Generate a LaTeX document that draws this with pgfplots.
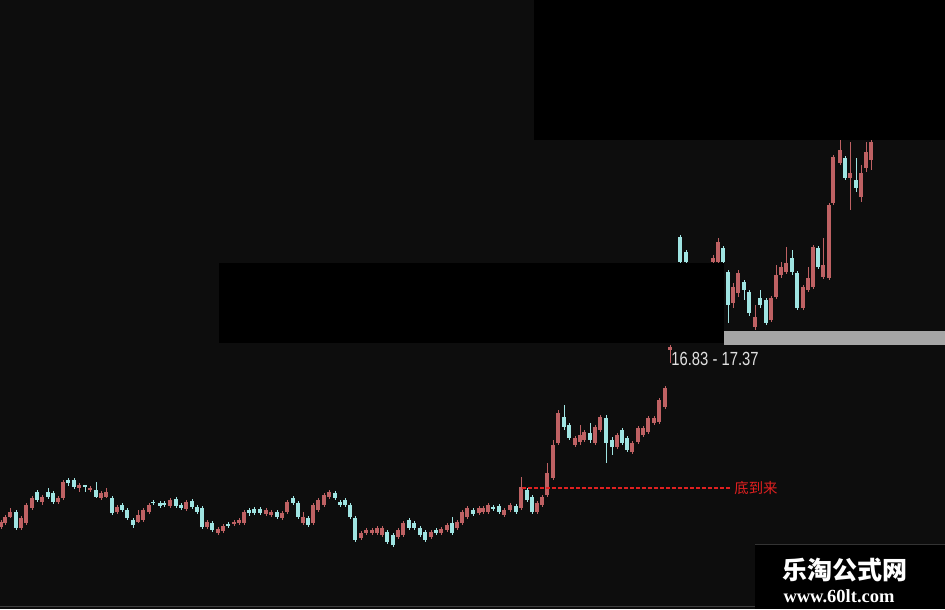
\documentclass[border=0pt]{standalone}
\usepackage{pgfplots}
\usepackage{pgfplotstable}
\pgfplotsset{compat=1.18}
\usepackage{fontspec}
\setmainfont{Liberation Sans}
\newfontfamily\cjk{Noto Sans CJK SC}
\newfontfamily\serifb{Liberation Serif}
\definecolor{bgc}{HTML}{0D0D0D}
\definecolor{upc}{HTML}{BE6163}
\definecolor{dnc}{HTML}{9FE4E2}
\definecolor{sigc}{HTML}{E02020}

% rising candles: x open high low close
\pgfplotstableread{
x o h l c
1 82 89 80 87
5 86 94 84 92
10 92 101 91 97
21 81 93 79 91
26 86 106 84 104
32 101 113 99 111
42 107 114 104 112
58 107 113 105 111
63 111 129 109 127
79 121 126 117 124
90 119 123 117 121
101 111 118 109 116
106 112 121 111 117
117 97 104 95 102
138 87 99 86 94
143 89 101 87 99
149 97 106 95 104
170 103 111 101 109
186 100 109 98 107
207 82 89 80 87
218 76 82 74 80
223 78 85 76 83
234 85 89 83 87
239 86 91 84 89
244 86 99 84 97
266 95 101 93 99
271 94 99 92 97
282 91 98 89 96
287 97 109 95 107
303 86 97 84 92
313 86 106 84 104
318 99 111 97 109
324 104 116 102 114
329 112 119 110 117
361 71 78 69 76
366 76 81 74 79
372 76 81 74 79
377 76 83 74 81
382 74 83 72 81
398 72 81 70 79
403 74 88 72 86
431 72 79 70 77
441 76 82 74 80
447 79 86 77 84
457 81 89 79 87
462 86 99 84 97
467 92 103 90 101
479 96 103 94 101
483 97 103 95 101
488 97 106 95 104
504 94 101 92 99
510 99 106 97 104
521 101 132 99 122
537 97 108 95 106
542 104 114 102 112
547 114 146 112 136
553 131 169 129 164
558 166 199 164 196
575 164 173 162 171
580 167 184 164 174
584 169 179 167 177
595 166 184 164 182
600 179 194 177 192
617 162 176 160 174
632 157 168 155 166
638 167 183 165 181
643 174 183 172 181
648 177 193 175 191
654 186 193 184 191
659 187 211 185 209
665 202 223 200 221
670 259 264 246 262
713 347 354 345 351
718 347 371 345 367
733 306 326 301 322
738 316 339 312 336
755 282 304 279 292
771 289 313 287 311
776 312 344 310 334
781 334 347 331 342
786 337 362 335 346
803 301 324 299 322
808 319 342 317 331
813 322 364 320 362
823 332 371 330 344
829 331 406 329 404
833 406 454 404 452
840 446 469 444 459
850 431 467 399 436
861 412 444 407 436
866 441 467 437 457
871 449 469 439 467
}\up

% falling candles: x open high low close
\pgfplotstableread{
x o h l c
16 97 99 79 81
37 117 119 107 109
48 117 121 110 112
53 116 118 105 107
68 129 131 123 126
74 129 131 120 122
85 124 124 117 122
96 119 127 111 112
112 111 113 94 96
122 104 106 97 99
127 99 101 89 91
133 89 91 81 84
153 107 109 104 106
160 106 108 101 103
164 106 108 102 104
176 110 112 101 103
181 104 106 99 101
192 108 110 100 102
197 102 104 95 97
202 101 103 80 82
212 86 88 77 79
228 85 87 81 83
249 99 101 93 96
254 100 102 94 96
260 100 102 94 96
277 97 99 90 92
293 111 113 104 106
298 106 108 90 92
308 91 93 82 84
335 116 118 109 111
340 107 109 102 104
345 109 111 102 104
350 104 106 90 92
355 91 93 67 69
387 77 79 65 67
393 74 76 62 64
409 89 91 79 81
414 86 88 79 81
420 81 83 72 74
425 77 79 67 69
436 79 81 74 76
452 86 92 74 76
473 99 101 93 95
493 102 104 98 100
499 103 105 95 97
516 103 105 95 97
527 119 121 107 109
532 112 114 95 97
564 192 204 179 182
569 184 186 169 171
590 176 186 166 169
606 191 194 146 166
612 169 172 154 162
622 179 181 164 166
627 171 173 157 159
680 372 374 345 347
686 357 359 345 347
723 361 363 345 347
728 337 339 286 304
744 327 329 309 319
749 317 319 293 296
760 311 319 301 304
766 309 311 284 286
792 351 359 334 337
797 336 338 299 301
818 361 363 340 342
845 451 453 429 431
856 429 451 417 421
}\down

\pgfplotsset{
  wick/.style={draw=none, mark=none, forget plot,
    error bars/.cd, y dir=both, y explicit, error mark=none,
    error bar style={draw=#1, line width=0.5pt}},
  body/.style={draw=none, mark=none, forget plot,
    error bars/.cd, y dir=both, y explicit, error mark=none,
    error bar style={draw=#1, line width=2.1pt}},
}

\begin{document}
\begin{tikzpicture}
\fill[bgc] (0,0) rectangle (472.5pt,304.5pt);
\begin{axis}[
    at={(0,0)}, anchor=south west,
    width=472.5pt, height=304.5pt, scale only axis,
    xmin=0, xmax=945, ymin=0, ymax=609,
    hide axis, clip=true,
]
% wicks
\addplot[wick=upc] table[x=x, y expr=(\thisrow{h}+\thisrow{l})/2,
    y error expr=(\thisrow{h}-\thisrow{l})/2] {\up};
\addplot[wick=dnc] table[x=x, y expr=(\thisrow{h}+\thisrow{l})/2,
    y error expr=(\thisrow{h}-\thisrow{l})/2] {\down};
% bodies
\addplot[body=upc] table[x=x, y expr=(\thisrow{o}+\thisrow{c})/2,
    y error expr=abs(\thisrow{c}-\thisrow{o})/2] {\up};
\addplot[body=dnc] table[x=x, y expr=(\thisrow{o}+\thisrow{c})/2,
    y error expr=abs(\thisrow{c}-\thisrow{o})/2] {\down};

% signal line
\addplot[draw=sigc, line width=0.7pt, dash pattern=on 2pt off 1pt] coordinates {(522,121) (730,121)};
\node[text=sigc, font=\cjk\fontsize{7.2}{8}\selectfont, anchor=west, inner sep=0pt] at (axis cs:734,121) {底到来};

% masked areas
\fill[black] (axis cs:534,469) rectangle (axis cs:945,609);
\fill[black] (axis cs:219,266) rectangle (axis cs:724,346);
\fill[black!35!white] (axis cs:724,264) rectangle (axis cs:945,278);
\node[text=black!12!white, font=\fontsize{9.5}{10}\selectfont, xscale=0.78, inner sep=0pt] at (axis cs:715,250) {16.83 - 17.37};

% watermark
\fill[black] (axis cs:755,0) rectangle (axis cs:945,64);
\draw[black!80!white, line width=0.5pt] (axis cs:755,64) -- (axis cs:945,64);
\draw[black!75!white, line width=0.5pt] (axis cs:0,3) -- (axis cs:755,3);
\node[text=white, font=\cjk\bfseries\fontsize{12.5}{13}\selectfont, inner sep=0pt] at (axis cs:845,39) {乐淘公式网};
\node[text=white, font=\serifb\bfseries\fontsize{9.25}{10}\selectfont, inner sep=0pt] at (axis cs:839,13) {www.60lt.com};
\end{axis}
\pgfresetboundingbox
\useasboundingbox (0,0) rectangle (472.5pt,304.5pt);
\end{tikzpicture}
\end{document}
